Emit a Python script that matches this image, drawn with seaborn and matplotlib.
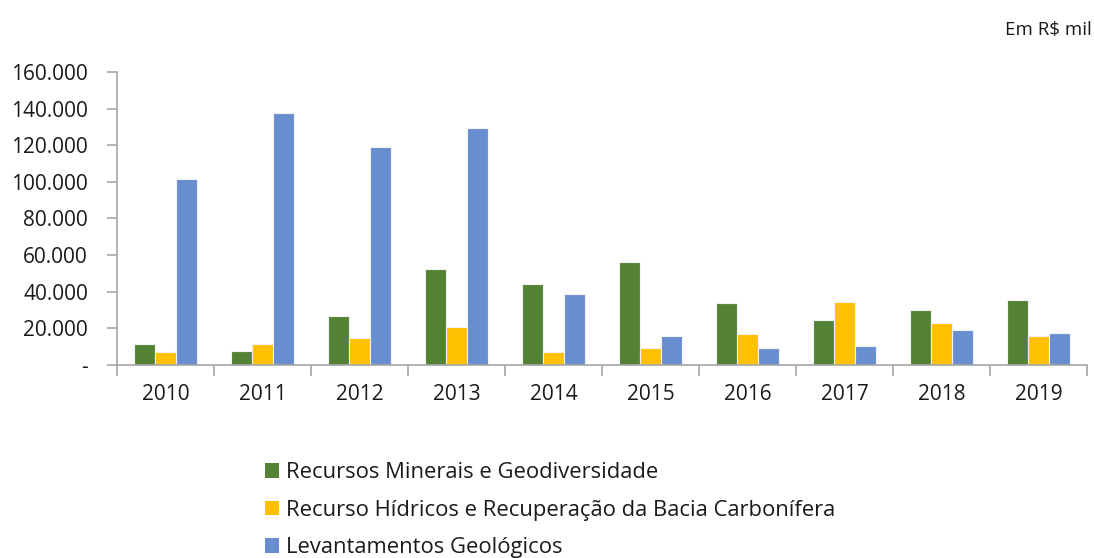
import matplotlib
matplotlib.use("Agg")
import matplotlib.pyplot as plt
import matplotlib.ticker as mticker
from matplotlib.patches import Patch
import pandas as pd
import seaborn as sns

anos = ["2010", "2011", "2012", "2013", "2014", "2015", "2016", "2017", "2018", "2019"]
series = [
    "Recursos Minerais e Geodiversidade",
    "Recurso Hídricos e Recuperação da Bacia Carbonífera",
    "Levantamentos Geológicos",
]
minerais = [11500, 7500, 26500, 52200, 44000, 56200, 34000, 24700, 30000, 35300]
hidricos = [6900, 11500, 14700, 20700, 7100, 9500, 16700, 34500, 22700, 15800]
levantamentos = [101500, 137600, 119300, 129300, 38500, 16000, 9500, 10200, 18900, 17600]
cores = ["#548235", "#FFC000", "#698ED0"]
yticks = [0, 20000, 40000, 60000, 80000, 100000, 120000, 140000, 160000]

df = pd.DataFrame({
    "ano": anos * 3,
    "serie": [series[0]] * 10 + [series[1]] * 10 + [series[2]] * 10,
    "valor": minerais + hidricos + levantamentos,
})

sns.set_theme(style="white")
plt.rcParams["font.family"] = ["Open Sans", "DejaVu Sans"]

fig = plt.figure(figsize=(10.94, 5.58), dpi=100)
ax = fig.add_axes([0.107, 0.346, 0.8866, 0.525])

sns.barplot(data=df, x="ano", y="valor", hue="serie", palette=cores,
            saturation=1, width=0.65, gap=0, edgecolor="#F2F2F2", linewidth=0.8,
            errorbar=None, legend=False, ax=ax, zorder=2)

ax.set_xlim(-0.5, len(anos) - 0.5)
ax.set_ylim(0, 160000)
ax.set_yticks(yticks)
ax.yaxis.set_major_formatter(mticker.FuncFormatter(
    lambda v, p: "-" if v == 0 else f"{v:,.0f}".replace(",", ".")))
ax.set_xlabel("")
ax.set_ylabel("")

for s in ["top", "right"]:
    ax.spines[s].set_visible(False)
for s in ["left", "bottom"]:
    ax.spines[s].set_color("#A6A6A6")
    ax.spines[s].set_linewidth(1.2)

ax.tick_params(axis="y", which="major", direction="out", length=7, width=1.2,
               color="#A6A6A6", labelsize=15, labelcolor="#1A1A1A", pad=14, left=True)
ax.tick_params(axis="x", which="major", length=0, labelsize=15,
               labelcolor="#1A1A1A", pad=14)
ax.set_xticks([i - 0.5 for i in range(len(anos) + 1)], minor=True)
ax.tick_params(axis="x", which="minor", direction="out", length=8, width=1.2,
               color="#A6A6A6", bottom=True)

fig.text(0.998, 0.946, "Em R$ mil", ha="right", va="center", fontsize=13.5, color="#1A1A1A")

handles = [Patch(facecolor=c, edgecolor="none") for c in cores]
fig.legend(handles, series, loc="upper left", bbox_to_anchor=(0.242, 0.172),
           frameon=False, fontsize=15.8, handlelength=0.65, handleheight=0.65,
           handletextpad=0.3, labelspacing=0.76, borderpad=0, borderaxespad=0,
           labelcolor="#1A1A1A")

fig.savefig("out.png", dpi=100)
